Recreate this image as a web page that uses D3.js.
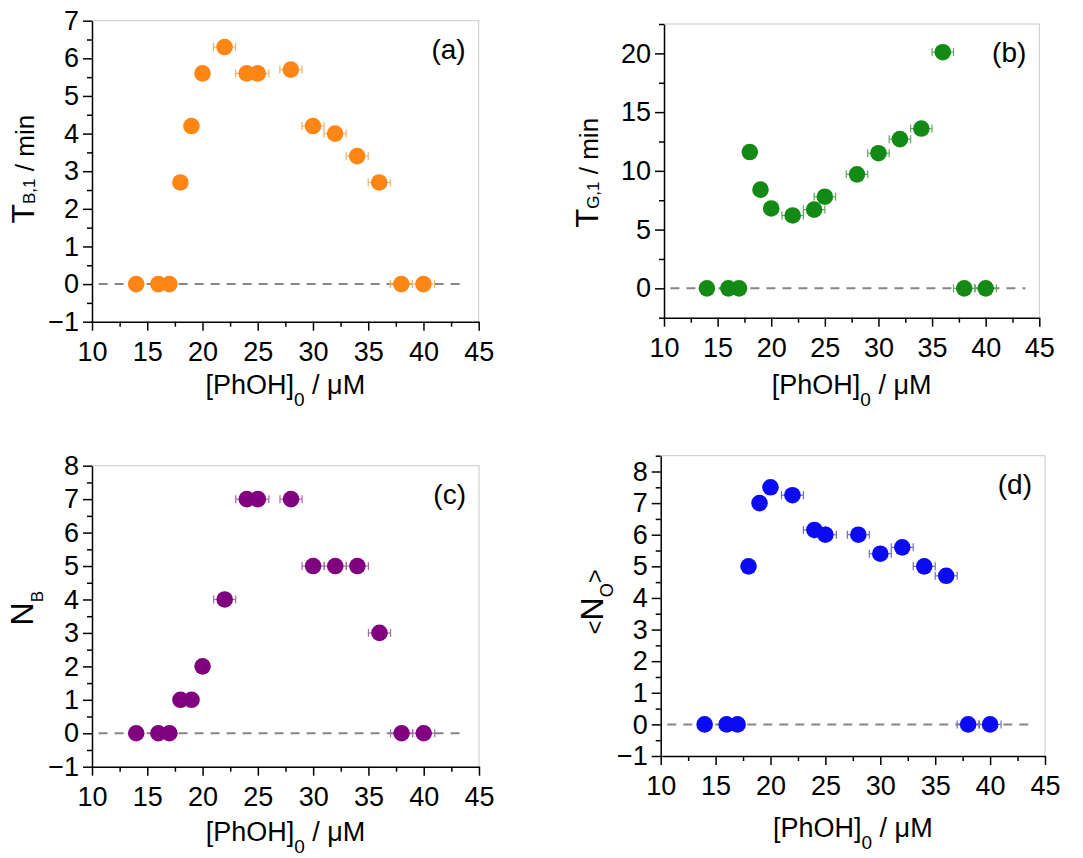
<!DOCTYPE html>
<html>
<head>
<meta charset="utf-8">
<script src="https://cdn.jsdelivr.net/npm/d3@7"></script>
<style>
  body { margin: 0; background: #fff; }
  svg { display: block; font-family: "Liberation Sans", Arial, sans-serif; }
</style>
</head>
<body>
<svg id="chart" width="1083" height="858"></svg>
<script>
// [PhOH]0 in uM, shared by all four panels
const conc = [14, 16, 17, 18, 19, 20, 22, 24, 25, 28, 30, 32, 34, 36, 38, 40]
const concErr = [0, 0, 0, 0, 0, 0, 1, 1, 1, 1, 1, 1, 1, 1, 1, 1]

const tB1 = [0, 0, 0, 2.7, 4.2, 5.6, 6.3, 5.6, 5.6, 5.7, 4.2, 4.0, 3.4, 2.7, 0, 0]
const tG1 = [0, 0, 0, 11.6, 8.4, 6.8, 6.2, 6.7, 7.8, 9.7, 11.5, 12.7, 13.6, 20.1, 0, 0]
const nB = [0, 0, 0, 1, 1, 2, 4, 7, 7, 7, 5, 5, 5, 3, 0, 0]
const nO = [0, 0, 0, 5.0, 7.0, 7.5, 7.25, 6.15, 6.0, 6.0, 5.4, 5.6, 5.0, 4.7, 0, 0]

const xTicks = [10, 15, 20, 25, 30, 35, 40, 45]
const xMinor = [12.5, 17.5, 22.5, 27.5, 32.5, 37.5, 42.5]
const zeroLine = [10.6, 43.7]

const yTicksA = [-1, 0, 1, 2, 3, 4, 5, 6, 7]
const yTicksB = [0, 5, 10, 15, 20]
const yMinorB = [-2.5, 2.5, 7.5, 12.5, 17.5, 22.5]
const yTicksC = [-1, 0, 1, 2, 3, 4, 5, 6, 7, 8]

const halfSteps = (a, b) => d3.range(a + 0.5, b, 1)

const panels = [
  { id: "a", box: [92, 20.7, 478.7, 321.7], yDomain: [-1, 7], yTicks: yTicksA, yMinor: halfSteps(-1, 7),
    values: tB1, color: "#ff8514", errColor: "#f2b26e",
    yTitle: [["T", 32, 0], ["B,1", 17, 1], [" / min", 26, -1]], yTitleX: 34, yTitleShift: -2,
    xTitleY: 394 },
  { id: "b", box: [664, 24, 1039.3, 317.7], yDomain: [-2.5, 22.5], yTicks: yTicksB, yMinor: yMinorB,
    values: tG1, color: "#138a13", errColor: "#62a862",
    yTitle: [["T", 31, 0], ["G,1", 17, 1], [" / min", 26, -1]], yTitleX: 598, yTitleShift: 2,
    xTitleY: 394 },
  { id: "c", box: [92, 465.7, 479, 766.7], yDomain: [-1, 8], yTicks: yTicksC, yMinor: halfSteps(-1, 8),
    values: nB, color: "#800080", errColor: "#a86aa8",
    yTitle: [["N", 32, 0], ["B", 17, 10]], yTitleX: 33, yTitleShift: -8,
    xTitleY: 841 },
  { id: "d", box: [660.7, 455.7, 1045, 756], yDomain: [-1, 8.5], yTicks: yTicksC, yMinor: halfSteps(-1, 9),
    values: nO, color: "#0a0af5", errColor: "#6f6fc0",
    yTitle: [["<", 24, 0], ["N", 32, 0], ["O", 18, 10], [">", 24, -10]], yTitleX: 603, yTitleShift: -4,
    xTitleY: 837 }
]

const svg = d3.select("#chart")

panels.forEach(p => {
  const [x0, y0, x1, y1] = p.box
  const x = d3.scaleLinear().domain([10, 45]).range([x0, x1])
  const y = d3.scaleLinear().domain(p.yDomain).range([y1, y0])
  const g = svg.append("g").attr("class", "panel-" + p.id)

  // light frame on top and right
  g.append("path")
    .attr("d", `M${x0},${y0}H${x1}V${y1}`)
    .attr("fill", "none")
    .attr("stroke", "#c8c8c8")
    .attr("stroke-width", 1)

  // minor ticks
  g.append("g")
    .attr("transform", `translate(0,${y1})`)
    .call(d3.axisBottom(x).tickValues(xMinor).tickSize(5).tickSizeOuter(0).tickFormat(""))
    .call(a => a.select(".domain").remove())
  g.append("g")
    .attr("transform", `translate(${x0},0)`)
    .call(d3.axisLeft(y).tickValues(p.yMinor).tickSize(5).tickSizeOuter(0).tickFormat(""))
    .call(a => a.select(".domain").remove())

  const xAxis = g.append("g")
    .attr("transform", `translate(0,${y1})`)
    .call(d3.axisBottom(x).tickValues(xTicks).tickSize(9).tickSizeOuter(0).tickPadding(11).tickFormat(d3.format("d")))
  const yAxis = g.append("g")
    .attr("transform", `translate(${x0},0)`)
    .call(d3.axisLeft(y).tickValues(p.yTicks).tickSize(9).tickSizeOuter(0).tickPadding(4).tickFormat(d3.format("d")))

  ;[xAxis, yAxis].forEach(a => {
    a.attr("font-family", "Liberation Sans, Arial, sans-serif")
    a.selectAll("text").attr("fill", "#000").style("font-size", "27px")
  })
  g.selectAll("line").attr("stroke", "#000").attr("stroke-width", 1.5)
  g.selectAll(".domain").attr("stroke", "#000").attr("stroke-width", 1.5)

  // dashed zero line
  g.append("line")
    .attr("x1", x(zeroLine[0])).attr("x2", x(zeroLine[1]))
    .attr("y1", y(0)).attr("y2", y(0))
    .attr("stroke", "#858585")
    .attr("stroke-width", 2)
    .attr("stroke-dasharray", "9,7")

  const pts = conc.map((c, i) => ({ c, e: concErr[i], v: p.values[i] }))

  // horizontal error bars
  const eb = g.append("g")
    .attr("stroke", p.errColor)
    .attr("stroke-width", 1.2)
    .selectAll("g")
    .data(pts.filter(d => d.e > 0))
    .join("g")
  eb.append("line")
    .attr("x1", d => x(d.c - d.e)).attr("x2", d => x(d.c + d.e))
    .attr("y1", d => y(d.v)).attr("y2", d => y(d.v))
  eb.append("line")
    .attr("x1", d => x(d.c - d.e)).attr("x2", d => x(d.c - d.e))
    .attr("y1", d => y(d.v) - 4).attr("y2", d => y(d.v) + 4)
  eb.append("line")
    .attr("x1", d => x(d.c + d.e)).attr("x2", d => x(d.c + d.e))
    .attr("y1", d => y(d.v) - 4).attr("y2", d => y(d.v) + 4)

  g.append("g")
    .selectAll("circle")
    .data(pts)
    .join("circle")
    .attr("cx", d => x(d.c))
    .attr("cy", d => y(d.v))
    .attr("r", 8.3)
    .attr("fill", p.color)

  // panel tag
  g.append("text")
    .attr("x", x1 - 13)
    .attr("y", y0 + 38)
    .attr("text-anchor", "end")
    .style("font-size", "28px")
    .text("(" + p.id + ")")

  // x title
  const xt = g.append("text")
    .attr("x", (x0 + x1) / 2)
    .attr("y", p.xTitleY)
    .attr("text-anchor", "middle")
  xt.append("tspan").style("font-size", "27px").text("[PhOH]")
  xt.append("tspan").style("font-size", "19px").attr("dy", 12).text("0")
  xt.append("tspan").style("font-size", "27px").attr("dy", -12).text(" / μM")

  // y title
  const yt = g.append("text")
    .attr("transform", `translate(${p.yTitleX},${(y0 + y1) / 2 + p.yTitleShift}) rotate(-90)`)
    .attr("text-anchor", "middle")
  p.yTitle.forEach(([s, size, dy]) => {
    yt.append("tspan").style("font-size", size + "px").attr("dy", dy).text(s)
  })
})
</script>
</body>
</html>
